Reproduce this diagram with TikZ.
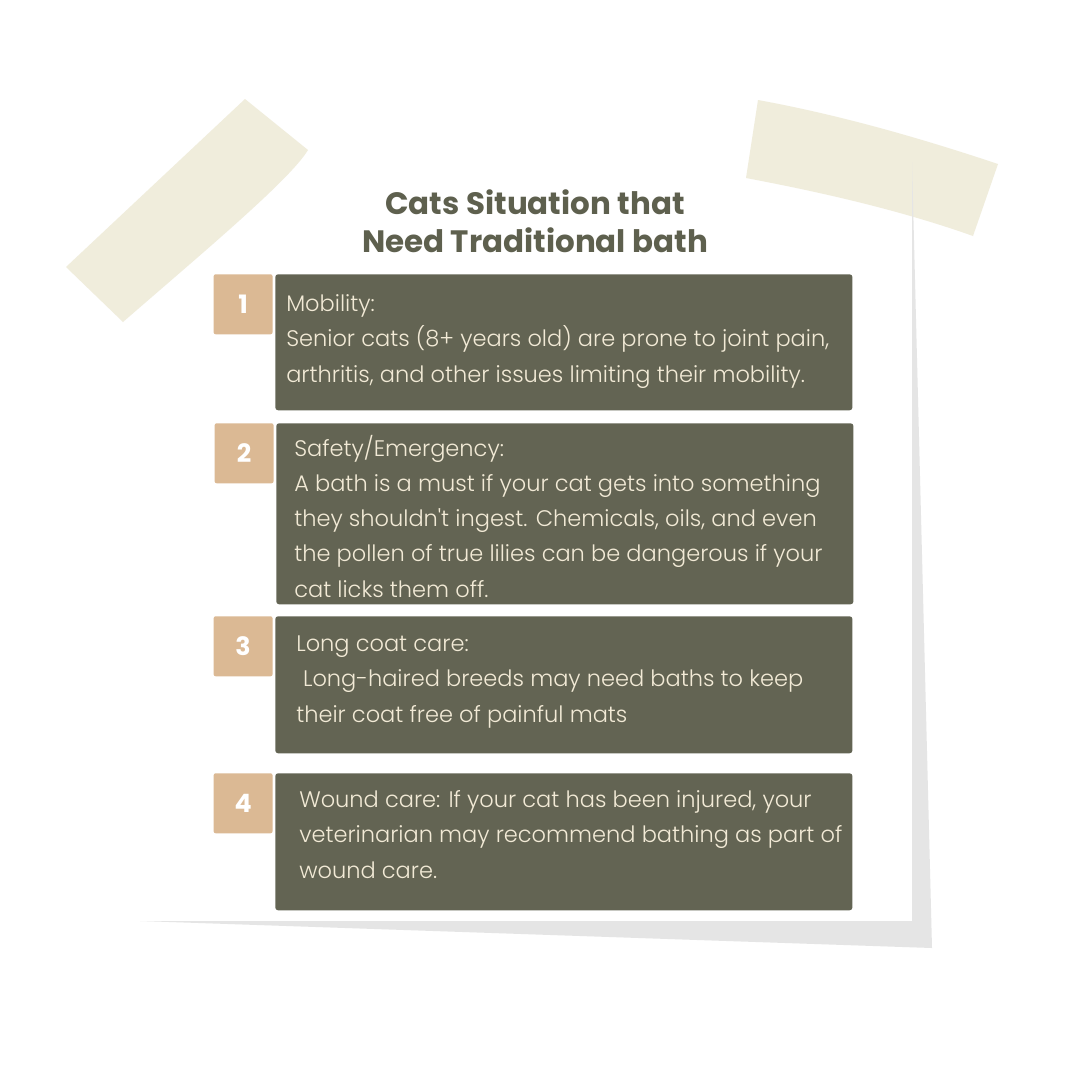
\documentclass[tikz,border=0pt]{standalone}
\usepackage{fontspec}
\setmainfont{Poppins}
\newfontfamily\lightfont{Poppins Light}
\usetikzlibrary{positioning}
\definecolor{tapecol}{HTML}{F0EDDC}
\definecolor{shadecol}{HTML}{E5E5E5}
\definecolor{olive}{HTML}{636453}
\definecolor{tancol}{HTML}{DBB994}
\definecolor{cream}{HTML}{F2EAD6}
\definecolor{ink}{HTML}{5E604E}
\tikzset{card/.style={fill=olive, rounded corners=2pt, anchor=north west, inner sep=0pt, minimum width=14.425cm}}
\tikzset{numbox/.style={fill=tancol, rounded corners=1.5pt, anchor=north east, inner sep=0pt, minimum width=1.475cm, minimum height=1.5cm, text=white, font=\bfseries\fontsize{18}{20}\selectfont}}
\tikzset{body/.style={anchor=base west, inner sep=0pt, align=left, text=cream, font=\lightfont\fontsize{16}{24.9}\selectfont}}
\tikzset{title/.style={anchor=base, inner sep=0pt, align=center, text=ink, font=\bfseries\fontsize{22}{27}\selectfont}}

\begin{document}
\begin{tikzpicture}[x=0.025cm, y=-0.025cm]
\path [fill=white, use as bounding box] (0,0) rectangle (1080,1080);
\fill [tapecol] (245,99) -- (308,150) .. controls (290,180) and (200,255) .. (123,322) -- (66,267) -- cycle;
\fill [tapecol] (758,100) .. controls (840,115) and (920,138) .. (998,164) -- (973,236) .. controls (900,210) and (820,192) .. (746,178) -- cycle;
\fill [shadecol] (912,162) -- (932,948) -- (140,921) -- (912,921) -- cycle;
\node [title] (title) at (535,252) {Cats Situation that\\Need Traditional bath};
\foreach \n/\cx/\cy/\h/\tx/\ty/\txt in {
  1/275/274/136/286/382/{Mobility:\\Senior cats (8+ years old) are prone to joint pain,\\arthritis, and other issues limiting their mobility.},
  2/276/423/181/294/597/{Safety/Emergency:\\A bath is a must if your cat gets into something\\they shouldn\textquotesingle t ingest. Chemicals, oils, and even\\the pollen of true lilies can be dangerous if your\\cat licks them off.},
  3/275/616/137/296/722/{Long coat care:\\\hspace*{0.3em}Long-haired breeds may need baths to keep\\their coat free of painful mats},
  4/275/773/137/299/878/{Wound care: If your cat has been injured, your\\veterinarian may recommend bathing as part of\\wound care.}} {
  \node [card, minimum height=\h*0.025cm] (card\n) at (\cx,\cy) {};
  \node [numbox] (num\n) at ([xshift=-1.5pt]card\n.north west) {\n};
  \node [body] (body\n) at (\tx,\ty) {\txt};
}
\end{tikzpicture}
\end{document}
